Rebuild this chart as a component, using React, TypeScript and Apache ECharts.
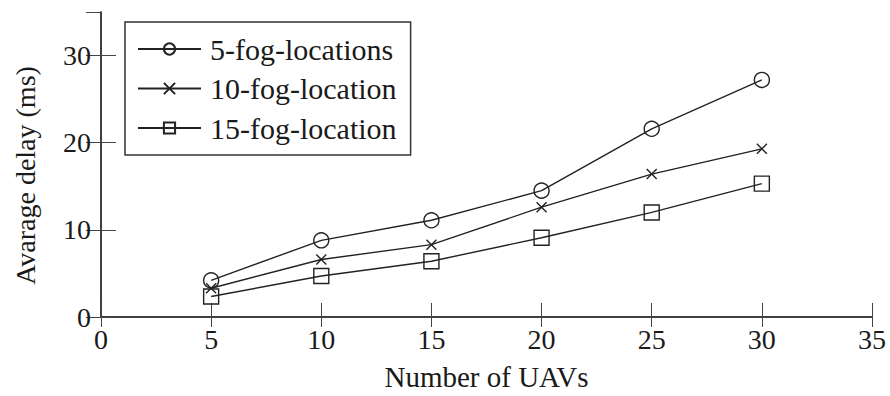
import React, { useEffect, useRef } from "react";
import * as echarts from "echarts";

const uavs = [5, 10, 15, 20, 25, 30];
const fog5 = [4.2, 8.8, 11.1, 14.5, 21.6, 27.2];
const fog10 = [3.3, 6.6, 8.3, 12.6, 16.4, 19.3];
const fog15 = [2.35, 4.7, 6.4, 9.1, 12.0, 15.3];
const seriesNames = ["5-fog-locations", "10-fog-location", "15-fog-location"];

const FONT = "'Liberation Serif', 'Times New Roman', serif";
const INK = "#1a1a1a";

export default function App() {
  const ref = useRef<HTMLDivElement>(null);
  useEffect(() => {
    if (!ref.current) return;
    const chart = echarts.init(ref.current, undefined, { renderer: "svg" });
    const mk = (name: string, vals: number[], symbol: string, size: number) => ({
      name,
      type: "line",
      data: uavs.map((u, i) => [u, vals[i]]),
      symbol,
      symbolSize: size,
      showAllSymbol: true,
      lineStyle: { color: "#222", width: 1.4 },
      itemStyle: { color: "rgba(0,0,0,0)", borderColor: "#222", borderWidth: 1.4 },
      emphasis: { disabled: true },
    });
    const axisLine = { show: true, lineStyle: { color: "#333", width: 1.5 } };
    chart.setOption({
      animation: false,
      backgroundColor: "#fff",
      textStyle: { fontFamily: FONT },
      grid: { left: 101, top: 12, right: 18, bottom: 76 },
      legend: {
        left: 125,
        top: 22,
        orient: "vertical",
        data: seriesNames,
        itemWidth: 63,
        itemHeight: 14,
        itemGap: 9.5,
        padding: [12, 14, 12, 12],
        borderColor: "#333",
        borderWidth: 1.5,
        backgroundColor: "#fff",
        textStyle: { fontFamily: FONT, fontSize: 30, color: INK, lineHeight: 30, padding: [0, 0, 0, 4] },
      },
      xAxis: [
        {
          type: "value",
          min: 0,
          max: 35,
          interval: 5,
          name: "Number of UAVs",
          nameLocation: "middle",
          nameGap: 45,
          nameTextStyle: { fontFamily: FONT, fontSize: 29, color: INK, verticalAlign: "top" },
          axisLine,
          axisTick: { show: true, inside: true, length: 14, lineStyle: { color: "#444", width: 1 } },
          axisLabel: { fontFamily: FONT, fontSize: 28, color: INK, margin: 8 },
          splitLine: { show: false },
        },
        {
          type: "value",
          position: "top",
          min: 0,
          max: 35,
          interval: 5,
          axisLine,
          axisTick: { show: true, inside: true, length: 10, lineStyle: { color: "#444", width: 1 } },
          axisLabel: { show: false },
          splitLine: { show: false },
        },
      ],
      yAxis: [
        {
          type: "value",
          min: 0,
          max: 35,
          interval: 10,
          name: "Avarage delay (ms)",
          nameLocation: "middle",
          nameGap: 62,
          nameTextStyle: { fontFamily: FONT, fontSize: 28, color: INK, padding: [0, 22, 0, 0] },
          axisLine,
          axisTick: { show: true, inside: true, length: 15, lineStyle: { color: "#444", width: 1 } },
          axisLabel: { fontFamily: FONT, fontSize: 28, color: INK, margin: 10, showMaxLabel: false },
          splitLine: { show: false },
        },
        {
          type: "value",
          position: "right",
          min: 0,
          max: 35,
          interval: 10,
          axisLine,
          axisTick: { show: true, inside: true, length: 15, lineStyle: { color: "#444", width: 1 } },
          axisLabel: { show: false },
          splitLine: { show: false },
        },
      ],
      series: [
        mk(seriesNames[0], fog5, "circle", 15),
        mk(seriesNames[1], fog10, "path://M0,0L10,10M10,0L0,10", 10),
        mk(seriesNames[2], fog15, "rect", 15),
      ],
    });
    return () => chart.dispose();
  }, []);
  return (
    <div
      ref={ref}
      style={{ position: "fixed", left: 0, top: 0, width: 890, height: 396, background: "#fff" }}
    />
  );
}
